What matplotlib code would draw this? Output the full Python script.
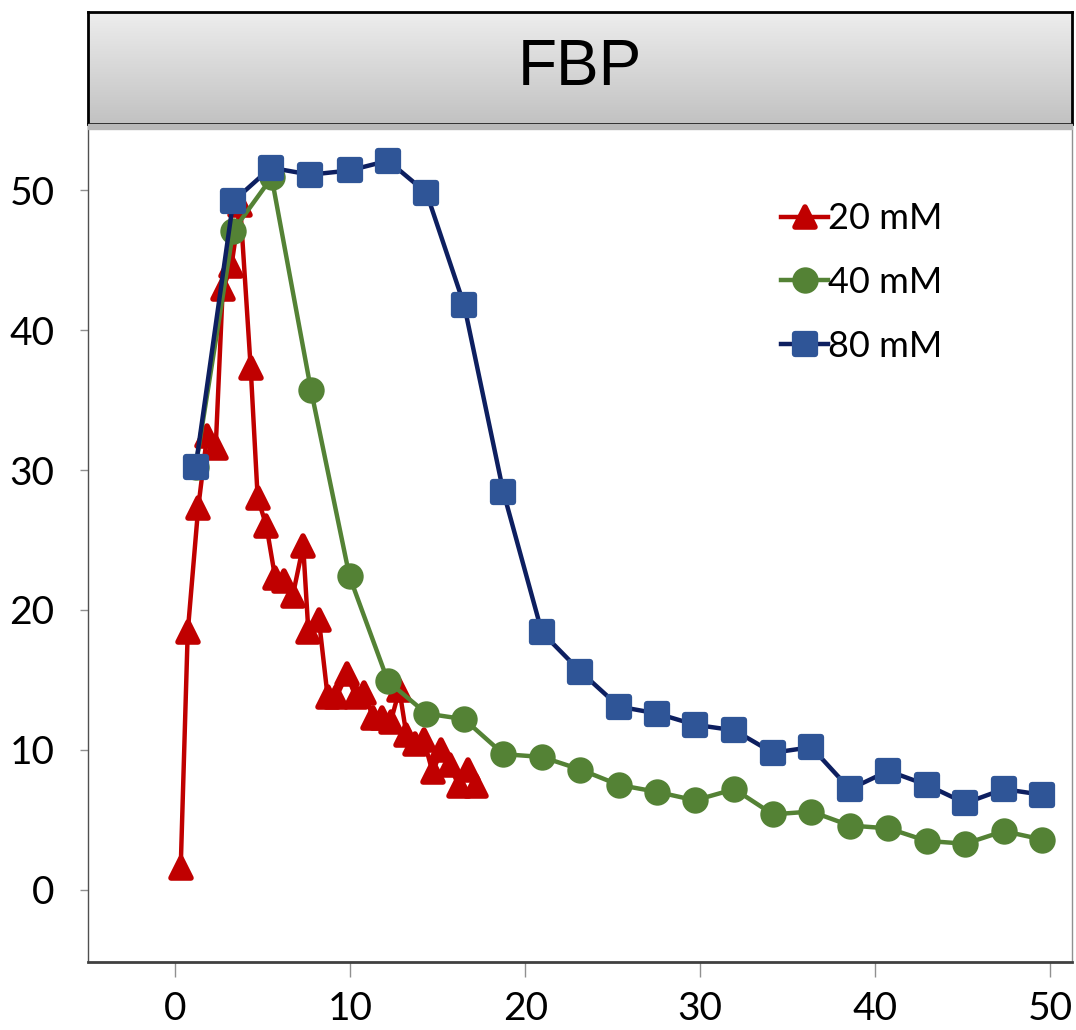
import matplotlib
matplotlib.use("Agg")
import matplotlib.pyplot as plt
import numpy as np
from matplotlib.markers import MarkerStyle
from matplotlib.patches import Rectangle

# FBP concentration over time, three starting concentrations
labels = ["20 mM", "40 mM", "80 mM"]

x_20 = [0.3, 0.7, 1.3, 1.8, 2.3, 2.7, 3.2, 3.7, 4.3, 4.7, 5.2, 5.7, 6.2, 6.7,
        7.3, 7.6, 8.2, 8.7, 9.2, 9.8, 10.3, 10.8, 11.3, 11.8, 12.3, 12.8,
        13.2, 13.7, 14.2, 14.7, 15.2, 15.7, 16.2, 16.7, 17.2]
y_20 = [1.6, 18.4, 27.3, 32.4, 31.6, 42.9, 44.6, 48.9, 37.3, 28.0, 26.0, 22.3,
        22.1, 21.0, 24.6, 18.4, 19.3, 13.8, 13.8, 15.4, 13.8, 14.1, 12.3, 12.3,
        12.0, 14.3, 11.1, 10.4, 10.7, 8.4, 10.0, 8.9, 7.4, 8.6, 7.4]

x_40 = [1.15, 3.3, 5.5, 7.75, 9.95, 12.15, 14.35, 16.5, 18.75, 20.95, 23.15,
        25.35, 27.55, 29.7, 31.95, 34.15, 36.35, 38.55, 40.75, 42.95, 45.15,
        47.35, 49.55]
y_40 = [30.2, 47.1, 50.9, 35.7, 22.4, 14.9, 12.6, 12.2, 9.7, 9.5, 8.6, 7.5,
        7.0, 6.4, 7.2, 5.4, 5.6, 4.6, 4.4, 3.5, 3.3, 4.2, 3.6]

x_80 = [1.15, 3.3, 5.45, 7.7, 9.95, 12.15, 14.35, 16.5, 18.75, 20.95, 23.15,
        25.35, 27.55, 29.7, 31.95, 34.15, 36.35, 38.55, 40.75, 42.95, 45.15,
        47.35, 49.55]
y_80 = [30.2, 49.2, 51.6, 51.1, 51.4, 52.1, 49.8, 41.8, 28.4, 18.4, 15.6, 13.1,
        12.6, 11.8, 11.4, 9.8, 10.2, 7.2, 8.5, 7.5, 6.2, 7.2, 6.8]

x_ticks = [0, 10, 20, 30, 40, 50]
y_ticks = [0, 10, 20, 30, 40, 50]

RED = "#C00000"
GREEN = "#548235"
BLUE_M = "#2F5597"
BLUE_L = "#0D1F60"

plt.rcParams['font.family'] = ['Lato', 'DejaVu Sans']

fig = plt.figure(figsize=(10.76, 10.30), dpi=100)
ax = fig.add_axes([88 / 1076, 68 / 1030, 984 / 1076, 837 / 1030])


def rmark(m):
    return MarkerStyle(m, joinstyle="round")


ax.plot(x_20, y_20, color=RED, lw=3.2, marker=rmark("^"), ms=14, mfc=RED,
        mec=RED, mew=4, label=labels[0], zorder=3)
ax.plot(x_40, y_40, color=GREEN, lw=3.2, marker=rmark("o"), ms=17, mfc=GREEN,
        mec=GREEN, mew=2, label=labels[1], zorder=4)
ax.plot(x_80, y_80, color=BLUE_L, lw=3.2, marker=rmark("s"), ms=14, mfc=BLUE_M,
        mec=BLUE_M, mew=4.5, label=labels[2], zorder=5)

ax.set_xlim(-5, 51.25)
ax.set_ylim(-5.15, 54.65)
ax.set_xticks(x_ticks)
ax.set_yticks(y_ticks)
ax.tick_params(axis="x", direction="out", length=11, width=1, color="#909090",
               labelsize=28, pad=10)
ax.tick_params(axis="y", direction="out", length=6, width=1, color="#909090",
               labelsize=28, pad=18)

ax.spines["bottom"].set_color("#404040")
ax.spines["bottom"].set_linewidth(2)
ax.spines["left"].set_color("#505050")
ax.spines["left"].set_linewidth(1)
ax.spines["right"].set_color("#909090")
ax.spines["right"].set_linewidth(1)
ax.spines["top"].set_visible(False)

leg = ax.legend(loc="upper left", bbox_to_anchor=(0.69, 0.925), frameon=False,
                fontsize=26, handlelength=1.3, handletextpad=0.0,
                labelspacing=0.85, borderaxespad=0)

# title box with grey gradient and a soft shadow
tax = fig.add_axes([88 / 1076, 906 / 1030, 984 / 1076, 112 / 1030])
grad = np.linspace(0.93, 0.76, 100).reshape(-1, 1)
tax.imshow(np.dstack([grad, grad, grad]), aspect="auto", extent=[0, 1, 0, 1],
           origin="upper")
tax.set_xlim(0, 1)
tax.set_ylim(0, 1)
tax.set_xticks([])
tax.set_yticks([])
for s in tax.spines.values():
    s.set_linewidth(2)
    s.set_color("black")
tax.text(0.5, 0.5, "FBP", ha="center", va="center", fontsize=46,
         family=["Liberation Sans", "DejaVu Sans"])
fig.patches.append(Rectangle((88 / 1076, 901 / 1030), 984 / 1076, 5 / 1030,
                             transform=fig.transFigure, color="#b8b8b8",
                             zorder=0))

fig.savefig("out.png", dpi=100)
